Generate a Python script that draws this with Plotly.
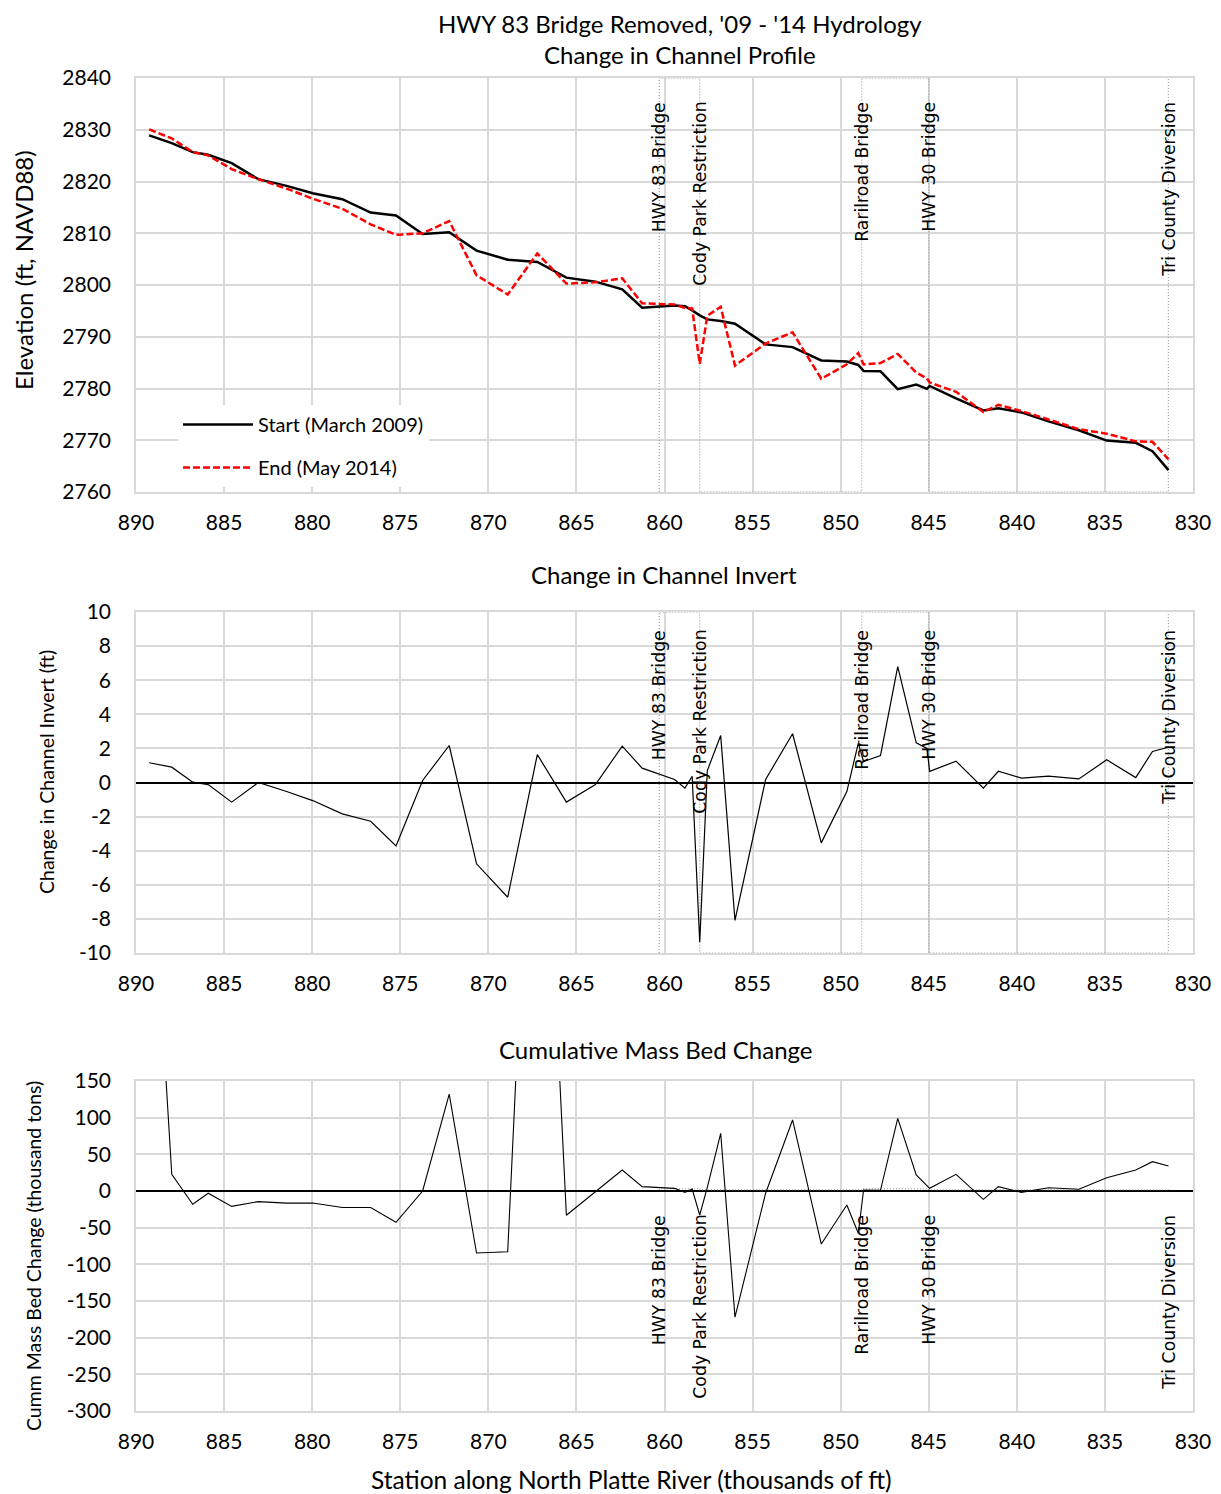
import plotly.graph_objects as go

# ---------------- data ----------------
stations = [889.25, 887.97, 886.78, 885.90, 884.57, 883.06, 881.45, 879.97, 878.29, 876.68,
            875.24, 873.73, 872.22, 870.67, 868.90, 867.22, 865.57, 863.92, 862.40, 861.27,
            859.43, 858.84, 858.43, 858.00, 857.57, 856.81, 856.00, 854.26, 852.73, 851.10,
            849.65, 849.00, 848.70, 847.74, 846.76, 845.71, 845.10, 844.95, 843.45, 841.90,
            841.05, 839.74, 838.20, 836.48, 834.90, 833.25, 832.30, 831.39]

start_2009 = [2828.90, 2827.42, 2825.68, 2825.16, 2823.55, 2820.45, 2819.16, 2817.74, 2816.58, 2814.00,
              2813.42, 2809.87, 2810.19, 2806.65, 2804.90, 2804.45, 2801.42, 2800.65, 2799.16, 2795.61,
              2796.06, 2795.90, 2795.10, 2794.13, 2793.35, 2793.03, 2792.52, 2788.52, 2788.00, 2785.42,
              2785.20, 2784.55, 2783.40, 2783.33, 2779.87, 2780.77, 2779.94, 2780.50, 2778.10, 2775.77,
              2776.20, 2775.38, 2773.65, 2771.92, 2769.94, 2769.50, 2767.88, 2764.23]

end_2014 = [2830.06, 2828.32, 2825.70, 2825.04, 2822.40, 2820.45, 2818.63, 2816.68, 2814.74, 2811.73,
            2809.70, 2809.99, 2812.36, 2801.88, 2798.17, 2806.09, 2800.27, 2800.53, 2801.29, 2796.45,
            2796.24, 2795.57, 2795.47, 2784.76, 2794.05, 2795.79, 2784.43, 2788.70, 2790.86, 2781.88,
            2784.67, 2786.85, 2784.63, 2784.91, 2786.67, 2783.10, 2781.94, 2781.15, 2779.35, 2775.44,
            2776.86, 2775.64, 2774.02, 2772.13, 2771.27, 2769.79, 2769.70, 2766.30]

invert_change = [1.16, 0.90, 0.02, -0.12, -1.15, 0.00, -0.53, -1.06, -1.84, -2.27,
                 -3.72, 0.12, 2.17, -4.77, -6.73, 1.64, -1.15, -0.12, 2.13, 0.84,
                 0.18, -0.33, 0.37, -9.37, 0.70, 2.76, -8.09, 0.18, 2.86, -3.54,
                 -0.53, 2.30, 1.23, 1.58, 6.80, 2.33, 2.00, 0.65, 1.25, -0.33,
                 0.66, 0.26, 0.37, 0.21, 1.33, 0.29, 1.82, 2.07]

cumm_mass = [528, 22.8, -18, -3, -21, -14.5, -16.5, -16.4, -22.4, -22.4,
             -42.7, 0, 132, -84.6, -82.8, 779, -33, -1, 28.6, 5.9,
             3.6, -1.8, 2.7, -32.7, 5, 78.7, -172, -3, 96.9, -72.3,
             -19, -57.7, 1.4, 1, 99, 21.8, 8, 3.6, 22.7, -11.4,
             5.9, -1.8, 4.5, 2.3, 18.2, 28.6, 40, 34.1]

marker_stations = [860.3, 858.0, 848.8, 845.0, 831.4]
marker_labels = ["HWY 83 Bridge", "Cody Park Restriction", "Rarilroad Bridge",
                 "HWY 30 Bridge", "Tri County Diversion"]

x_ticks = [890, 885, 880, 875, 870, 865, 860, 855, 850, 845, 840, 835, 830]
elev_ticks = [2760, 2770, 2780, 2790, 2800, 2810, 2820, 2830, 2840]
invert_ticks = [-10, -8, -6, -4, -2, 0, 2, 4, 6, 8, 10]
mass_ticks = [-300, -250, -200, -150, -100, -50, 0, 50, 100, 150]

# ---------------- layout helpers (reference pixel coords -> figure) ----------------
OFF = 8                    # page body margin
W, H = 1221 - OFF, 1494 - OFF
PL, PR = 136, 1193         # plot area left/right in reference pixels
PW = PR - PL
ML = PL - OFF
panels = [(78, 492), (612, 953), (1081, 1411)]


def dom(t, b):
    return [1 - (b - OFF) / H, 1 - (t - OFF) / H]


def px(xp):
    return (xp - OFF - ML) / PW


def py(yp):
    return 1 - (yp - OFF) / H


FONT = "Lato"
LBLFONT = "DejaVu Sans"
GRID = "#d9d9d9"


def zigzag(lo, hi):
    xs, ys = [], []
    for i, m in enumerate(marker_stations):
        xs += [m, m]
        ys += [lo, hi] if i % 2 == 0 else [hi, lo]
    return xs, ys


def tick_text(vals):
    return [str(v) for v in vals]


fig = go.Figure()

dot = dict(color="#8c8c8c", width=1, dash="1px,2px")

# top panel
zx, zy = zigzag(2760, 2840)
fig.add_trace(go.Scatter(x=zx, y=zy, mode="lines", line=dot, showlegend=False,
                         hoverinfo="skip", xaxis="x", yaxis="y"))
fig.add_trace(go.Scatter(x=stations, y=start_2009, mode="lines", name="Start (March 2009)",
                         line=dict(color="black", width=2.5), legendgroup="a",
                         xaxis="x", yaxis="y"))
fig.add_trace(go.Scatter(x=stations, y=end_2014, mode="lines", name="End (May 2014)",
                         line=dict(color="#ff0000", width=2.5, dash="7px,3px"), legendgroup="b",
                         xaxis="x", yaxis="y"))

# middle panel
zx, zy = zigzag(-10, 10)
fig.add_trace(go.Scatter(x=zx, y=zy, mode="lines", line=dot, showlegend=False,
                         hoverinfo="skip", xaxis="x2", yaxis="y2"))
fig.add_trace(go.Scatter(x=stations, y=invert_change, mode="lines", showlegend=False,
                         line=dict(color="black", width=1.2), xaxis="x2", yaxis="y2"))

# bottom panel
zx, zy = zigzag(1.5, 3)
fig.add_trace(go.Scatter(x=zx, y=zy, mode="lines", line=dot, showlegend=False,
                         hoverinfo="skip", xaxis="x3", yaxis="y3"))
fig.add_trace(go.Scatter(x=stations, y=cumm_mass, mode="lines", showlegend=False,
                         line=dict(color="black", width=1.1), xaxis="x3", yaxis="y3"))

tickfont = dict(family=FONT, size=21, color="black")


def xax(anchor):
    return dict(domain=[0, 1], anchor=anchor, range=[890, 830], tickmode="array",
                tickvals=x_ticks, ticktext=tick_text(x_ticks), showgrid=True,
                gridcolor=GRID, gridwidth=1.5, automargin=False,
                showline=True, mirror=True, linecolor=GRID, linewidth=1.5,
                zeroline=False, ticks="", ticklabelstandoff=11, tickfont=tickfont)


def yax(anchor, t, b, ticks, zero):
    return dict(domain=dom(t, b), anchor=anchor, range=[ticks[0], ticks[-1]],
                tickmode="array", tickvals=ticks, ticktext=tick_text(ticks),
                showgrid=True, gridcolor=GRID, gridwidth=1.5, automargin=False,
                showline=True, mirror=True, linecolor=GRID, linewidth=1.5,
                zeroline=zero, zerolinecolor="black", zerolinewidth=2,
                ticks="", ticklabelstandoff=19, tickfont=tickfont)


fig.update_layout(
    width=W, height=H, paper_bgcolor="white", plot_bgcolor="white",
    margin=dict(l=ML, r=W - (PR - OFF), t=0, b=0, autoexpand=False),
    showlegend=True,
    legend=dict(x=px(178), y=py(405), xanchor="left", yanchor="top",
                bgcolor="white", font=dict(family=FONT, size=20, color="black"),
                itemwidth=70, traceorder="grouped", tracegroupgap=14),
    xaxis=xax("y"), yaxis=yax("x", *panels[0], elev_ticks, False),
    xaxis2=xax("y2"), yaxis2=yax("x2", *panels[1], invert_ticks, True),
    xaxis3=xax("y3"), yaxis3=yax("x3", *panels[2], mass_ticks, True),
)

ann = []


def text(s, xp, yp, size, angle=0, family=FONT):
    ann.append(dict(text=s, x=px(xp), y=py(yp), xref="paper", yref="paper",
                    xanchor="center", yanchor="middle", showarrow=False, textangle=angle,
                    font=dict(family=family, size=size, color="black")))


# two-line main title, anchored to the top of the figure
ann.append(dict(text="HWY 83 Bridge Removed, '09 - '14 Hydrology<br>Change in Channel Profile",
                x=px(680), y=1, xref="paper", yref="paper", xanchor="center", yanchor="top",
                showarrow=False, borderpad=0,
                font=dict(family=FONT, size=24, color="black")))
text("Change in Channel Invert", 664, 574, 24)
text("Cumulative Mass Bed Change", 656, 1049, 24)
text("Station along North Platte River (thousands of ft)", 631, 1479, 24.5)
text("Elevation (ft, NAVD88)", 24, 270, 24, -90)
text("Change in Channel Invert (ft)", 47, 772, 19.5, -90)
text("Cumm Mass Bed Change (thousand tons)", 33, 1256, 19.5, -90)

# rotated site labels, top-anchored in each panel
label_tops = [100, 628, 1213]
for top_y in label_tops:
    for m, lab in zip(marker_stations, marker_labels):
        ann.append(dict(text=lab, x=m, xref="x", y=py(top_y), yref="paper",
                        xanchor="center", yanchor="top", showarrow=False, textangle=-90,
                        font=dict(family=LBLFONT, size=17.3, color="black")))

fig.update_layout(annotations=ann)
fig.write_html("out.html")
